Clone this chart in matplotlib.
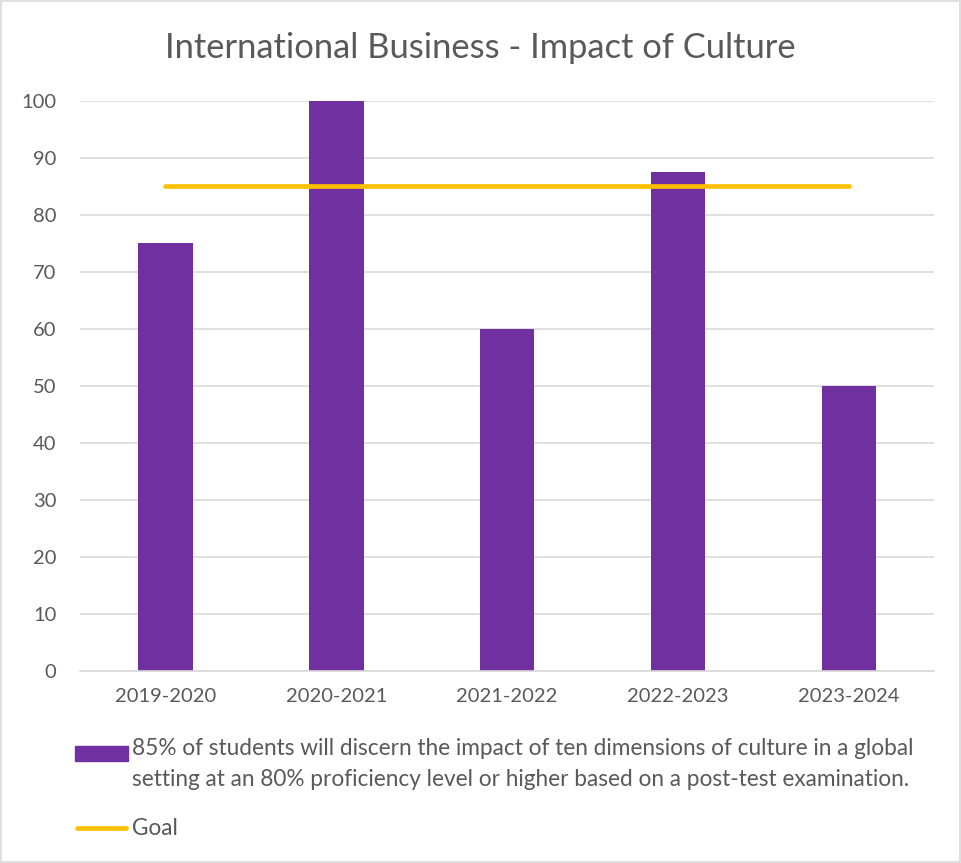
import matplotlib.pyplot as plt
from matplotlib.patches import Rectangle
from matplotlib.lines import Line2D

# Ergebnisse je Studienjahr und Zielwert
years = ["2019-2020", "2020-2021", "2021-2022", "2022-2023", "2023-2024"]
scores = [75, 100, 60, 87.5, 50]
goal = [85, 85, 85, 85, 85]

bar_label = ("85% of students will discern the impact of ten dimensions of culture in a global\n"
             "setting at an 80% proficiency level or higher based on a post-test examination.")

plt.rcParams['font.family'] = ['Lato', 'DejaVu Sans']
grey = "#595959"
W, H = 961, 863

fig = plt.figure(figsize=(9.61, 8.63), dpi=100)
ax = fig.add_axes([0.0832, 0.2225, 0.889, 0.6605])

x = range(len(years))
ax.bar(x, scores, width=0.32, color="#7030a0", zorder=2)
ax.plot(x, goal, color="#ffc000", linewidth=3.4, solid_capstyle="round", zorder=3)

ax.set_xlim(-0.5, len(years) - 0.5)
ax.set_ylim(0, 100)
ax.set_yticks(range(0, 101, 10))
ax.set_xticks(list(x))
ax.set_xticklabels(years)
ax.tick_params(axis="both", length=0, labelsize=14.5, colors=grey)
ax.tick_params(axis="x", pad=12)
ax.tick_params(axis="y", pad=17)
ax.grid(axis="y", color="#d9d9d9", linewidth=1.2, zorder=0)
for s in ["top", "right", "left"]:
    ax.spines[s].set_visible(False)
ax.spines["bottom"].set_color("#d9d9d9")
ax.spines["bottom"].set_linewidth(1.2)

fig.suptitle("International Business - Impact of Culture", y=0.963, fontsize=24.8, color=grey)

# Legende unter dem Diagramm, von Hand gesetzt
fig.patches.append(Rectangle((75 / W, 1 - 761 / H), 53 / W, 15 / H, transform=fig.transFigure,
                             color="#7030a0"))
fig.text(132 / W, 1 - 738 / H, bar_label, fontsize=16.3, color=grey, va="top",
         linespacing=1.6)
fig.lines.append(Line2D([77 / W, 126 / W], [1 - 828 / H, 1 - 828 / H], transform=fig.transFigure,
                        color="#ffc000", linewidth=3.4, solid_capstyle="round"))
fig.text(132 / W, 1 - 828 / H, "Goal", fontsize=16.3, color=grey, va="center")

# dünner grauer Rahmen um die ganze Grafik
fig.patches.append(Rectangle((0.001, 0.001), 0.998, 0.998, transform=fig.transFigure,
                             fill=False, edgecolor="#d9d9d9", linewidth=1.2))

fig.savefig("out.png", dpi=100)
